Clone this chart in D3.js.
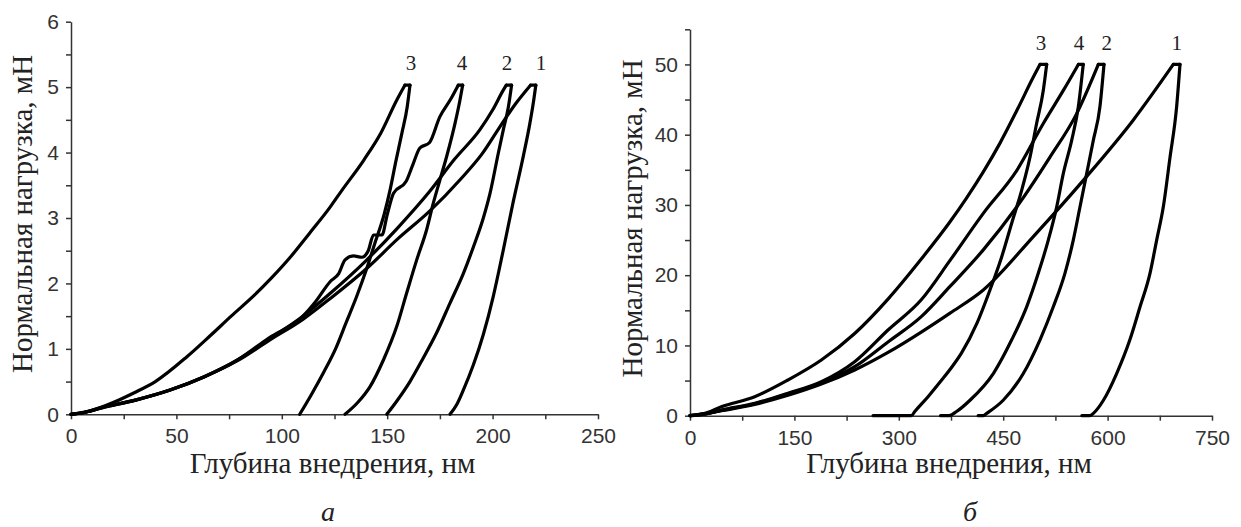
<!DOCTYPE html>
<html lang="ru">
<head>
<meta charset="utf-8">
<title>Кривые нагружения</title>
<script src="https://d3js.org/d3.v7.min.js"></script>
<style>
body { margin: 0; background: #fff; }
.axis path, .axis line { stroke: #333; stroke-width: 1.5; }
.axis text { font-family: "Liberation Sans", Arial, sans-serif; font-size: 21px; fill: #333; }
.title { font-family: "Liberation Serif", "Times New Roman", serif; font-size: 29px; fill: #222; }
.num { font-family: "Liberation Serif", "Times New Roman", serif; font-size: 21px; fill: #222; text-anchor: middle; }
.letter { font-family: "Liberation Serif", "Times New Roman", serif; font-style: italic; font-size: 28px; fill: #222; text-anchor: middle; }
.curve { fill: none; stroke: #000; stroke-width: 3.2; stroke-linejoin: round; stroke-linecap: round; }
</style>
</head>
<body>
<script>
// [глубина, нм ; нагрузка, мН] - нагружение, выдержка, разгрузка
var aCurve1 = [[0,0],[5,0.02],[15,0.1],[31,0.22],[47,0.37],[63,0.57],[79,0.82],[94,1.13],[110,1.45],[123,1.77],[140,2.22],[155,2.68],[170,3.1],[185,3.6],[195,3.98],[204,4.42],[211,4.75],[218,5.03],[220.5,5.03],[219.5,4.8],[217.7,4.45],[214.6,3.95],[209.8,3.25],[205,2.5],[200.3,1.8],[195.6,1.22],[190.8,0.75],[186.5,0.4],[183,0.15],[179.8,0]];
var aCurve2 = [[0,0],[5,0.02],[15,0.1],[31,0.22],[47,0.37],[63,0.57],[79,0.83],[94,1.15],[110,1.5],[123,1.85],[140,2.35],[155,2.85],[170,3.4],[182,3.9],[194,4.35],[200,4.65],[205,4.95],[206.5,5.03],[209,5.03],[207.5,4.7],[205.1,4.35],[202.7,3.99],[198.8,3.38],[195.6,3.0],[190.8,2.55],[186.1,2.15],[179.8,1.7],[173.5,1.25],[167.1,0.86],[160.8,0.5],[154.5,0.2],[149.8,0]];
var aCurve3 = [[0,0],[10,0.06],[20,0.18],[30,0.33],[40,0.5],[55,0.88],[66,1.2],[76,1.5],[87,1.82],[95,2.08],[104,2.4],[113,2.76],[123,3.17],[128,3.4],[139,3.89],[147,4.3],[154.5,4.8],[158.4,5.03],[160.8,5.03],[159.5,4.7],[157,4.3],[154,3.85],[151.5,3.45],[148.5,3.05],[144,2.6],[140,2.2],[135.5,1.8],[130.5,1.4],[125.5,1.0],[120,0.65],[114,0.3],[108.5,0]];
var aCurve4 = [[0,0],[5,0.02],[15,0.11],[31,0.22],[47,0.37],[63,0.57],[79,0.83],[94,1.17],[110,1.5],[116,1.72],[123,2.03],[127,2.15],[130,2.36],[134,2.42],[138,2.4],[141,2.5],[143.5,2.74],[147.5,2.74],[150,3.05],[153,3.38],[159,3.56],[162,3.8],[165.5,4.07],[170,4.15],[175,4.55],[180,4.81],[183.7,5.03],[185.8,5.03],[184.5,4.8],[182.2,4.45],[178.2,3.94],[175,3.58],[171.9,3.23],[168.7,2.82],[164,2.36],[159.2,1.85],[154.5,1.34],[148.2,0.83],[141.8,0.42],[136,0.18],[130,0]];

var bCurve1 = [[0,0],[20,0.25],[45,0.7],[93,1.6],[140.8,2.9],[188.7,4.5],[236.6,6.5],[284.5,9.0],[332.3,11.9],[373.6,14.6],[421.4,17.9],[493.3,25.5],[565.1,33.5],[637,42.1],[694.4,50],[704,50],[699.2,44],[689.7,36.8],[680,29.7],[670.5,25],[661,20.3],[646.6,15.5],[632,10.8],[613,6],[594,2.2],[579.5,0.33],[574.7,0],[563,0]];
var bCurve2 = [[0,0],[20,0.22],[45,0.75],[93,1.7],[140.8,3.1],[188.7,4.7],[236.6,6.97],[284.5,10.5],[332.3,14.1],[373.6,18.4],[421.4,23.6],[469.4,29.7],[517.2,36.8],[555.6,43],[586.7,50],[594.8,50],[589,44],[579.5,39.2],[570,34.5],[560.3,29.7],[550.7,25],[538.8,20.3],[522,15.5],[502.9,10.8],[478.9,6],[450,2.2],[426.3,0.33],[421.4,0],[414,0]];
var bCurve3 = [[0,0],[20,0.3],[45,1.28],[93,2.7],[140.8,5.08],[188.7,7.92],[236.6,11.7],[284.5,16.6],[332.3,22.3],[373.6,27.6],[397.5,31.0],[421.4,34.7],[445.4,38.8],[469.4,43.4],[493.3,48.2],[502.9,50],[512.5,50],[507.6,46.3],[498,41.6],[488.5,36.8],[476.6,32.1],[462.2,27.4],[447.8,22.6],[431,17.9],[412,13.1],[390,8.9],[376,6.9],[361,5.0],[342,2.7],[323,0.6],[318,0],[263,0]];
var bCurve4 = [[0,0],[20,0.2],[45,0.8],[93,1.76],[140.8,3.19],[188.7,4.84],[236.6,7.68],[284.5,12.2],[332.3,16.5],[373.6,22.1],[421.4,28.8],[469.4,34.9],[507.6,41.6],[536.4,46.3],[558,50],[565,50],[558,44],[548.4,39.2],[536.4,34.5],[526.8,29.7],[514.8,25],[500.5,20.3],[483.7,15.5],[462.2,10.8],[435.8,6],[402.3,2.2],[383,0.6],[372,0],[360,0]];

// номера кривых и их положение (в единицах осей)
var curveNames = ["3", "4", "2", "1"];
var aNameDepth = [161.3, 185.5, 206.8, 223];
var aNameLoad = 5.26;
var bNameDepth = [504.3, 558.9, 598.7, 699.3];
var bNameLoad = 52.0;

var aXTicks = [0, 50, 100, 150, 200, 250];
var aXMinor = [25, 75, 125, 175, 225];
var aYTicks = [0, 1, 2, 3, 4, 5, 6];
var aYMinor = [0.5, 1.5, 2.5, 3.5, 4.5, 5.5];
var bXTicks = [0, 150, 300, 450, 600, 750];
var bXMinor = [75, 225, 375, 525, 675];
var bYTicks = [0, 10, 20, 30, 40, 50];
var bYMinor = [5, 15, 25, 35, 45, 55];

var xTitle = "Глубина внедрения, нм";
var yTitle = "Нормальная нагрузка, мН";

var panels = [
	{ curves: [aCurve1, aCurve2, aCurve3, aCurve4], names: aNameDepth, nameLoad: aNameLoad,
	  xDomain: [0, 250], yDomain: [0, 6], xRange: [71, 598], yRange: [414.3, 21.7],
	  xTicks: aXTicks, xMinor: aXMinor, yTicks: aYTicks, yMinor: aYMinor,
	  yTitleX: 32, letter: "а", letterX: 328 },
	{ curves: [bCurve1, bCurve2, bCurve3, bCurve4], names: bNameDepth, nameLoad: bNameLoad,
	  xDomain: [0, 750], yDomain: [0, 55], xRange: [690, 1212], yRange: [415.7, 29.3],
	  xTicks: bXTicks, xMinor: bXMinor, yTicks: bYTicks, yMinor: bYMinor,
	  yTitleX: 642, letter: "б", letterX: 970 }
];

var svg = d3.select("body").append("svg")
	.attr("width", 1241)
	.attr("height", 527);

panels.forEach(function(p) {
	var x = d3.scaleLinear().domain(p.xDomain).range(p.xRange);
	var y = d3.scaleLinear().domain(p.yDomain).range(p.yRange);
	var y0 = p.yRange[0];
	var x0 = p.xRange[0];

	// minor ticks
	svg.append("g")
		.attr("class", "axis")
		.attr("transform", "translate(0," + y0 + ")")
		.call(d3.axisBottom(x).tickValues(p.xMinor).tickSize(5).tickFormat(""))
		.select(".domain").remove();
	svg.append("g")
		.attr("class", "axis")
		.attr("transform", "translate(" + x0 + ",0)")
		.call(d3.axisLeft(y).tickValues(p.yMinor).tickSize(5).tickFormat(""))
		.select(".domain").remove();

	svg.append("g")
		.attr("class", "axis")
		.attr("transform", "translate(0," + y0 + ")")
		.call(d3.axisBottom(x).tickValues(p.xTicks).tickSize(5).tickSizeOuter(0).tickPadding(9).tickFormat(d3.format("d")));
	svg.append("g")
		.attr("class", "axis")
		.attr("transform", "translate(" + x0 + ",0)")
		.call(d3.axisLeft(y).tickValues(p.yTicks).tickSize(5).tickSizeOuter(0).tickPadding(7).tickFormat(d3.format("d")));

	var smooth = d3.line()
		.x(function(d) { return x(d[0]); })
		.y(function(d) { return y(d[1]); })
		.curve(d3.curveMonotoneX);
	var straight = d3.line()
		.x(function(d) { return x(d[0]); })
		.y(function(d) { return y(d[1]); });

	// loading branch, hold at maximum load, unloading branch
	p.curves.forEach(function(c) {
		var pMax = d3.max(c, function(d) { return d[1]; });
		var iTop = c.findIndex(function(d) { return d[1] === pMax; });
		var iDeep = d3.maxIndex(c, function(d) { return d[0]; });
		svg.append("path").attr("class", "curve").attr("d", smooth(c.slice(0, iTop + 1)));
		svg.append("path").attr("class", "curve").attr("d", straight(c.slice(iTop, iDeep + 1)));
		svg.append("path").attr("class", "curve").attr("d", smooth(c.slice(iDeep)));
	});

	svg.selectAll(null)
		.data(curveNames).enter()
		.append("text")
		.attr("class", "num")
		.attr("x", function(d, i) { return x(p.names[i]); })
		.attr("y", y(p.nameLoad))
		.text(function(d) { return d; });

	var cx = (p.xRange[0] + p.xRange[1]) / 2;
	svg.append("text")
		.attr("class", "title")
		.attr("text-anchor", "middle")
		.attr("x", cx - 2)
		.attr("y", 473)
		.text(xTitle);

	var cy = (p.yRange[0] + p.yRange[1]) / 2;
	svg.append("text")
		.attr("class", "title")
		.attr("text-anchor", "middle")
		.attr("transform", "translate(" + p.yTitleX + "," + (cy - 4) + ") rotate(-90)")
		.text(yTitle);

	svg.append("text")
		.attr("class", "letter")
		.attr("x", p.letterX)
		.attr("y", 521)
		.text(p.letter);
});
</script>
</body>
</html>
